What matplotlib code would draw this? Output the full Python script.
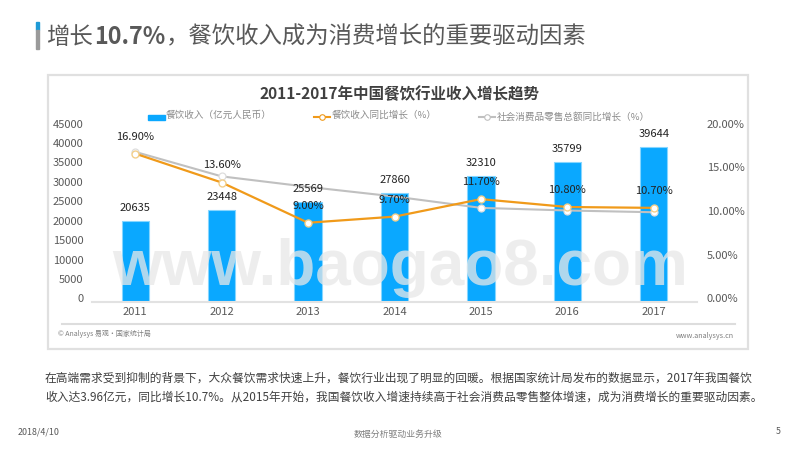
import matplotlib
matplotlib.use("Agg")
import matplotlib.pyplot as plt
from matplotlib.patches import Rectangle
from matplotlib.transforms import ScaledTranslation

plt.rcParams['font.family'] = ['Noto Sans CJK SC', 'DejaVu Sans']

years = ["2011", "2012", "2013", "2014", "2015", "2016", "2017"]
revenue = [20635, 23448, 25569, 27860, 32310, 35799, 39644]
revenue_growth = [16.9, 13.6, 9.0, 9.7, 11.7, 10.8, 10.7]
retail_growth = [17.1, 14.3, 13.1, 12.0, 10.7, 10.4, 10.2]
left_ticks = [0, 5000, 10000, 15000, 20000, 25000, 30000, 35000, 40000, 45000]
right_ticks = [0, 5, 10, 15, 20]

# full width punctuation written as escapes: \uff0c comma, \uff08 \uff09 brackets
title_parts = ["增长", "10.7%", "\uff0c餐饮收入成为消费增长的重要驱动因素"]
chart_title = "2011-2017年中国餐饮行业收入增长趋势"
legend_names = ["餐饮收入\uff08亿元人民币\uff09", "餐饮收入同比增长\uff08%\uff09", "社会消费品零售总额同比增长\uff08%\uff09"]
body_lines = ["在高端需求受到抑制的背景下\uff0c大众餐饮需求快速上升\uff0c餐饮行业出现了明显的回暖。根据国家统计局发布的数据显示\uff0c2017年我国餐饮",
              "收入达3.96亿元\uff0c同比增长10.7%。从2015年开始\uff0c我国餐饮收入增速持续高于社会消费品零售整体增速\uff0c成为消费增长的重要驱动因素。"]

BLUE = "#0aa8ff"
ORANGE = "#f09a1a"
GREY = "#c0c0c0"
TEXT = "#595959"

fig = plt.figure(figsize=(8, 4.5), dpi=100)

# page layer in pixel coordinates
page = fig.add_axes([0, 0, 1, 1], zorder=0)
page.set_xlim(0, 800)
page.set_ylim(450, 0)
page.axis("off")

page.add_patch(Rectangle((36, 22), 3, 8, color="#1e9ad6"))
page.add_patch(Rectangle((36, 30), 3, 19, color="#9a9a9a"))

# slide title: the number is bold, so three texts placed one after the other
renderer = fig.canvas.get_renderer()
title_x = 46
for part, weight in zip(title_parts, ["normal", "bold", "normal"]):
    t = page.text(title_x, 37, part, fontsize=16.85, color=TEXT, fontweight=weight, va="center", ha="left")
    title_x += t.get_window_extent(renderer).width + 1

page.add_patch(Rectangle((48, 75), 700, 274, fc="white", ec="#e0e0e0", lw=1.6))
page.plot([62, 735], [323.5, 323.5], color="#dddddd", lw=1.5)
page.text(399, 94, chart_title, fontsize=11.2, color="#404040", fontweight="bold", va="center", ha="center")

# legend
page.add_patch(Rectangle((148, 114.5), 17, 5, color=BLUE))
page.text(166, 115, legend_names[0], fontsize=6.9, color="#8c8c8c", va="center")
page.plot([314, 330], [116.5, 116.5], color=ORANGE, lw=1.5)
page.plot([322], [116.5], marker="o", ms=4, mfc="white", mec=ORANGE, mew=0.8)
page.text(332, 115, legend_names[1], fontsize=6.9, color="#8c8c8c", va="center")
page.plot([479, 495], [117, 117], color=GREY, lw=1.5)
page.plot([487], [117], marker="o", ms=4, mfc="white", mec=GREY, mew=0.8)
page.text(497, 117, legend_names[2], fontsize=6.9, color="#8c8c8c", va="center")

page.text(58, 334, "© Analysys 易观·国家统计局", fontsize=5, color="#7f7f7f", va="center")
page.text(734, 336.5, "www.analysys.cn", fontsize=5.2, color="#7f7f7f", va="center", ha="right")

page.text(45, 378, body_lines[0], fontsize=8.45, color="#404040", va="center")
page.text(45, 397, body_lines[1], fontsize=8.45, color="#404040", va="center")
page.text(18, 432, "2018/4/10", fontsize=6.4, color=TEXT, va="center")
page.text(398, 434, "数据分析驱动业务升级", fontsize=6.4, color="#7f7f7f", va="center", ha="center")
page.text(776, 432, "5", fontsize=6.4, color=TEXT, va="center")

# chart
ax = fig.add_axes([92 / 800, (450 - 301.5) / 450, 605 / 800, 175 / 450], zorder=1)
ax.patch.set_alpha(0)
x = list(range(len(years)))
ax.bar(x, revenue, width=0.315, color=BLUE, edgecolor="#86d6ff", linewidth=0.8)
ax.set_xlim(-0.5, 6.5)
ax.set_ylim(0, 45000)
ax.set_yticks(left_ticks)
ax.set_xticks(x, years)
ax.tick_params(axis="both", length=0, labelsize=8, labelcolor=TEXT)
ax.tick_params(axis="y", pad=6)
ax.tick_params(axis="x", pad=4)
for name in ["top", "left", "right"]:
    ax.spines[name].set_visible(False)
ax.spines["bottom"].set_color("#e2e2e2")
ax.spines["bottom"].set_linewidth(1.5)

ax2 = ax.twinx()
ax2.set_ylim(0, 19.9)
ax2.set_yticks(right_ticks, ["%.2f%%" % t for t in right_ticks])
ax2.tick_params(axis="y", length=0, labelsize=8, labelcolor=TEXT, pad=7)
for name in ax2.spines:
    ax2.spines[name].set_visible(False)

# labels sit a little above their ticks in the original
up = ScaledTranslation(0, 3 / 100, fig.dpi_scale_trans)
for lab in ax.get_yticklabels() + ax2.get_yticklabels():
    lab.set_transform(lab.get_transform() + up)

# no circles show on the grey line at 2013 and 2014
ax2.plot(x, retail_growth, color=GREY, lw=1.5, marker="o", ms=5, mfc="white", mec="#dddddd", mew=0.9,
         markevery=[0, 1, 4, 5, 6], zorder=3)
ax2.plot(x, revenue_growth, color=ORANGE, lw=1.6, marker="o", ms=5, mfc="white", mec="#f3cf8a", mew=1, zorder=4)

for i in x:
    ax2.annotate(str(revenue[i]), (i, revenue[i]), xycoords=ax.transData, xytext=(0, 8), textcoords="offset pixels",
                 ha="center", va="bottom", fontsize=8, color="#222222", zorder=6)
    ax2.annotate("%.2f%%" % revenue_growth[i], (i, revenue_growth[i]), xytext=(0, 12), textcoords="offset pixels",
                 ha="center", va="bottom", fontsize=8, color="#222222", zorder=6)

# watermark over everything
fig.text(400 / 800, 1 - 285 / 450, "www.baogao8.com", fontsize=46, fontweight="bold",
         family=["Liberation Sans"], color="#e8e8e8", alpha=0.75, ha="center", va="baseline", zorder=5)

fig.savefig("out.png", dpi=100)
